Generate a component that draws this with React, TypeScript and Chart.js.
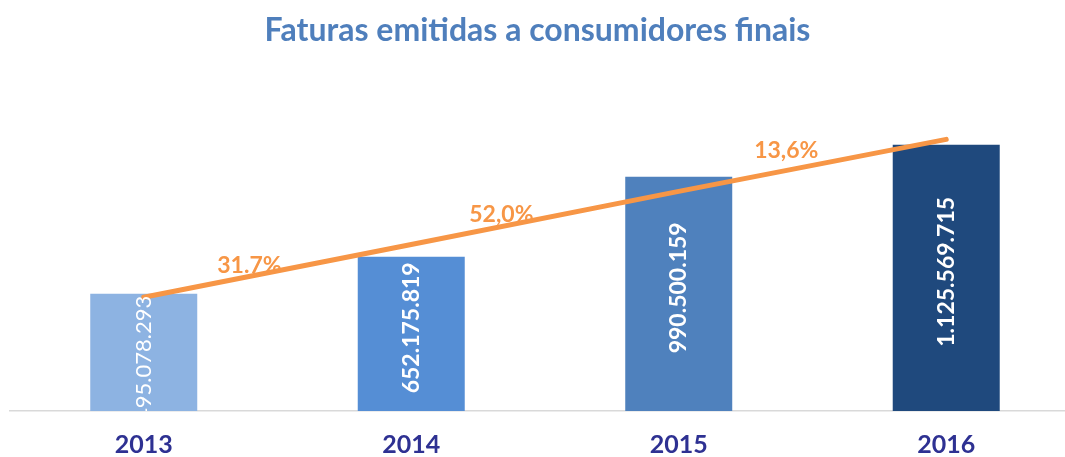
import React, { useEffect, useRef } from "react";
import { Chart, registerables } from "chart.js";

Chart.register(...registerables);

const years = ["2013", "2014", "2015", "2016"];
const invoices = [495078293, 652175819, 990500159, 1125569715];
const invoiceLabels = ["495.078.293", "652.175.819", "990.500.159", "1.125.569.715"];
const trendLine = [481000000, 704000000, 928000000, 1148000000];
const growthLabels = ["31.7%", "52,0%", "13,6%"];
const barColors = ["#8db3e2", "#558ed5", "#4f81bd", "#1f497d"];

const ORANGE = "#f79646";

const labelsPlugin = {
  id: "customLabels",
  afterDatasetsDraw(chart: any) {
    const ctx = chart.ctx;
    const area = chart.chartArea;
    // bar value labels
    const barMeta = chart.getDatasetMeta(1);
    ctx.save();
    ctx.beginPath();
    ctx.rect(area.left, area.top - 50, area.right - area.left, area.bottom - area.top + 50);
    ctx.clip();
    barMeta.data.forEach((bar: any, i: number) => {
      const mid = (bar.y + bar.base) / 2;
      ctx.save();
      ctx.translate(bar.x, i === 0 ? mid + 6 : mid - 6);
      ctx.rotate(-Math.PI / 2);
      ctx.fillStyle = "#ffffff";
      ctx.textAlign = "center";
      ctx.textBaseline = "middle";
      ctx.font = i === 0 ? "normal 22px Lato" : "bold 23px Lato";
      ctx.fillText(invoiceLabels[i], 0, 0);
      ctx.restore();
    });
    ctx.restore();

    // growth labels along the trend line
    const lineMeta = chart.getDatasetMeta(0);
    const anchors = [
      { t: 0.395, dy: -11 },
      { t: 0.337, dy: -12 },
      { t: 0.402, dy: -20 },
    ];
    ctx.save();
    ctx.fillStyle = ORANGE;
    ctx.textAlign = "center";
    ctx.textBaseline = "middle";
    ctx.font = "bold 23px Lato";
    growthLabels.forEach((txt, i) => {
      const a = lineMeta.data[i];
      const b = lineMeta.data[i + 1];
      const { t, dy } = anchors[i];
      const x = a.x + t * (b.x - a.x);
      const y = a.y + t * (b.y - a.y) + dy;
      ctx.fillText(txt, x, y);
    });
    ctx.restore();
  },
};

export default function App() {
  const canvasRef = useRef<HTMLCanvasElement | null>(null);

  useEffect(() => {
    if (!canvasRef.current) return;
    const chart = new Chart(canvasRef.current, {
      type: "bar",
      data: {
        datasets: [
          {
            type: "line",
            data: trendLine.map((v, i) => ({ x: i, y: v })),
            borderColor: ORANGE,
            borderWidth: 5,
            borderCapStyle: "round",
            pointRadius: 0,
            tension: 0,
            order: 0,
          } as any,
          {
            type: "bar",
            data: invoices.map((v, i) => ({ x: i, y: v })),
            backgroundColor: barColors,
            categoryPercentage: 1,
            barPercentage: 0.4,
            order: 1,
          } as any,
        ],
      },
      options: {
        animation: false,
        responsive: true,
        maintainAspectRatio: false,
        layout: { padding: { left: 10, right: 0, top: 0, bottom: 0 } },
        plugins: {
          legend: { display: false },
          tooltip: { enabled: false },
          title: {
            display: true,
            text: "Faturas emitidas a consumidores finais",
            color: "#4f7fbc",
            font: { family: "Lato", size: 32, weight: "bold" },
            padding: { top: 11, bottom: 54 },
          },
        },
        scales: {
          x: {
            type: "linear",
            offset: false,
            min: -0.5,
            max: 3.444,
            grid: { display: false, drawTicks: false, offset: false },
            border: { display: true, color: "#d9d9d9", width: 1.5 },
            afterBuildTicks: (scale: any) => {
              scale.ticks = years.map((_, i) => ({ value: i }));
            },
            afterFit: (scale: any) => {
              scale.height = 46;
            },
            ticks: {
              padding: 19,
              color: "#2e3192",
              font: { family: "Lato", size: 25, weight: "bold" },
              callback: (v: any) => years[v] ?? "",
            },
          },
          y: {
            display: false,
            min: 0,
            max: 1300000000,
          },
        },
      },
      plugins: [labelsPlugin],
    });
    return () => chart.destroy();
  }, []);

  return (
    <div style={{ width: 1065, height: 457, position: "relative" }}>
      <style>{"body{margin:0;overflow:hidden;background:#fff}"}</style>
      <canvas ref={canvasRef} />
    </div>
  );
}
